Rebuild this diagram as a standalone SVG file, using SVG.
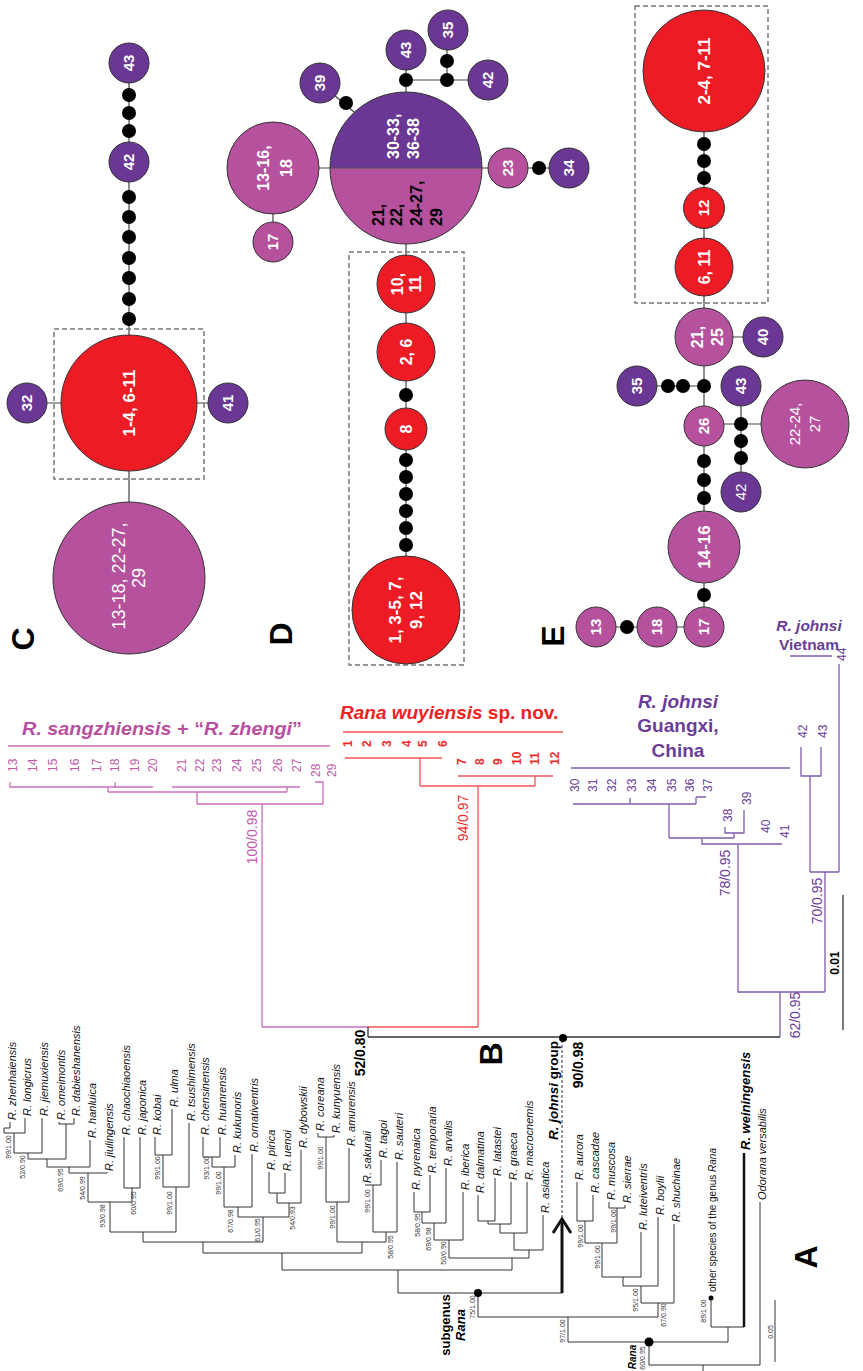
<svg xmlns="http://www.w3.org/2000/svg" width="863" height="1371" viewBox="0 0 863 1371">
<style>
text{font-family:"Liberation Sans",Arial,sans-serif}
.sp{font-size:11px;font-style:italic;fill:#111}
.bs{font-size:7px;fill:#333;text-anchor:middle}
.ta{stroke:#333;stroke-width:1;fill:none}
.lp{stroke:#cc6fba;stroke-width:1.3;fill:none}
.lr{stroke:#f25555;stroke-width:1.3;fill:none}
.lv{stroke:#7f5cb0;stroke-width:1.3;fill:none}
.lk{stroke:#333;stroke-width:1.3;fill:none}
.np{font-size:12px;fill:#c158a8}
.nr{font-size:12px;fill:#ee2a2a;font-weight:bold}
.nv{font-size:12px;fill:#6a3d9a}
.sv{font-size:14px;text-anchor:middle}
.hd{font-size:19px;font-weight:bold}
.big{font-size:32px;font-weight:bold;text-anchor:middle;fill:#000}
.cr{fill:#ed1c24;stroke:#333;stroke-width:1}
.cp{fill:#b5519d;stroke:#333;stroke-width:1}
.cv{fill:#6a3795;stroke:#333;stroke-width:1}
.dt{fill:#000}
.cl{stroke:#444;stroke-width:1.2;fill:none}
.bx{fill:none;stroke:#777;stroke-width:1.5;stroke-dasharray:5 3}
.ct{fill:#fff;font-weight:bold;text-anchor:middle;font-size:15px}
.cn{fill:#fff;text-anchor:middle;font-size:15px}
</style>

<!-- ================= NETWORK CONNECTORS ================= -->
<g id="connectors">
<path class="cl" d="M129 63V578M27 403H228"/>
<path class="cl" d="M273 168H569M273 168V242M320 83L354 112M406 50V610M406 80H488M447 30V80"/>
<path class="cl" d="M704 71V627M704 337H763M637 386H704M704 424H805M741 386V492M596 627H704"/>
</g>

<!-- ================= NETWORK C ================= -->
<g id="netC">
<rect class="bx" x="54" y="329" width="150" height="150"/>
<g id="C-43"><circle class="cv" cx="129" cy="63" r="20"/><text class="ct" transform="translate(134.3,63) rotate(-90)">43</text></g>
<g id="C-dots1"><circle class="dt" cx="129" cy="95" r="7"/><circle class="dt" cx="129" cy="113" r="7"/><circle class="dt" cx="129" cy="131" r="7"/></g>
<g id="C-42"><circle class="cv" cx="129" cy="162" r="20"/><text class="ct" transform="translate(134.3,162) rotate(-90)">42</text></g>
<g id="C-dots2"><circle class="dt" cx="129" cy="197" r="7"/><circle class="dt" cx="129" cy="217" r="7"/><circle class="dt" cx="129" cy="237" r="7"/><circle class="dt" cx="129" cy="258" r="7"/><circle class="dt" cx="129" cy="278" r="7"/><circle class="dt" cx="129" cy="299" r="7"/><circle class="dt" cx="129" cy="319" r="7"/></g>
<g id="C-red"><circle class="cr" cx="129" cy="403" r="68"/><text class="ct" style="font-size:17px" transform="translate(135,403) rotate(-90)">1-4, 6-11</text></g>
<g id="C-32"><circle class="cv" cx="27" cy="403" r="20"/><text class="ct" transform="translate(32.3,403) rotate(-90)">32</text></g>
<g id="C-41"><circle class="cv" cx="228" cy="403" r="20"/><text class="ct" transform="translate(233.3,403) rotate(-90)">41</text></g>
<g id="C-pink"><circle class="cp" cx="129" cy="578" r="76"/><text class="cn" style="font-size:18px" transform="translate(125.4,576) rotate(-90)">13-18, 22-27,</text><text class="cn" style="font-size:18px" transform="translate(145.4,578) rotate(-90)">29</text></g>
<text class="big" transform="translate(33.5,639) rotate(-90)">C</text>
</g>

<!-- ================= NETWORK D ================= -->
<g id="netD">
<rect class="bx" x="349" y="252" width="115" height="413"/>
<g id="D-13-16"><circle class="cp" cx="273" cy="168" r="46"/><text class="ct" style="font-size:16px" transform="translate(268.7,168) rotate(-90)">13-16,</text><text class="ct" style="font-size:16px" transform="translate(291.7,168) rotate(-90)">18</text></g>
<g id="D-17"><circle class="cp" cx="273" cy="242" r="20"/><text class="ct" transform="translate(278.3,242) rotate(-90)">17</text></g>
<g id="D-main">
<path d="M330 168A76 76 0 0 1 482 168Z" fill="#6a3795"/>
<path d="M330 168A76 76 0 0 0 482 168Z" fill="#b5519d"/>
<circle cx="406" cy="168" r="76" fill="none" stroke="#333" stroke-width="1"/>
<path d="M330 168H482" stroke="#555" stroke-width="1"/>
<text class="ct" style="font-size:16px;text-anchor:start" transform="translate(398.7,159) rotate(-90)">30-33,</text>
<text class="ct" style="font-size:16px;text-anchor:start" transform="translate(418.7,159) rotate(-90)">36-38</text>
<text style="font-size:16px;font-weight:bold;fill:#000" transform="translate(383.7,226) rotate(-90)">21,</text>
<text style="font-size:16px;font-weight:bold;fill:#000" transform="translate(401.7,226) rotate(-90)">22,</text>
<text style="font-size:16px;font-weight:bold;fill:#000" transform="translate(421.7,226) rotate(-90)">24-27,</text>
<text style="font-size:16px;font-weight:bold;fill:#000" transform="translate(441.7,226) rotate(-90)">29</text>
</g>
<g id="D-39"><circle class="cv" cx="320" cy="83" r="20"/><text class="ct" transform="translate(325.3,83) rotate(-90)">39</text></g>
<circle class="dt" cx="346" cy="103" r="7"/>
<g id="D-43"><circle class="cv" cx="406" cy="50" r="20"/><text class="ct" transform="translate(411.3,50) rotate(-90)">43</text></g>
<circle class="dt" cx="406" cy="80" r="7"/>
<circle class="dt" cx="447" cy="80" r="7"/>
<circle class="dt" cx="447" cy="61" r="7"/>
<g id="D-35"><circle class="cv" cx="448" cy="30" r="20"/><text class="ct" transform="translate(453.3,30) rotate(-90)">35</text></g>
<g id="D-42"><circle class="cv" cx="488" cy="80" r="20"/><text class="ct" transform="translate(493.3,80) rotate(-90)">42</text></g>
<g id="D-23"><circle class="cp" cx="508" cy="168" r="20"/><text class="ct" transform="translate(513.3,168) rotate(-90)">23</text></g>
<circle class="dt" cx="539" cy="168" r="7"/>
<g id="D-34"><circle class="cv" cx="569" cy="168" r="20"/><text class="ct" transform="translate(574.3,168) rotate(-90)">34</text></g>
<g id="D-10-11"><circle class="cr" cx="406" cy="284" r="29"/><text class="ct" style="font-size:16px" transform="translate(402.7,284) rotate(-90)">10,</text><text class="ct" style="font-size:16px" transform="translate(420.7,284) rotate(-90)">11</text></g>
<g id="D-2-6"><circle class="cr" cx="406" cy="352" r="29"/><text class="ct" style="font-size:16px" transform="translate(411.7,352) rotate(-90)">2, 6</text></g>
<circle class="dt" cx="406" cy="395" r="7"/>
<g id="D-8"><circle class="cr" cx="406" cy="429" r="21"/><text class="ct" style="font-size:16px" transform="translate(411.7,429) rotate(-90)">8</text></g>
<g id="D-dots"><circle class="dt" cx="406" cy="460" r="7"/><circle class="dt" cx="406" cy="477" r="7"/><circle class="dt" cx="406" cy="494" r="7"/><circle class="dt" cx="406" cy="511" r="7"/><circle class="dt" cx="406" cy="528" r="7"/><circle class="dt" cx="406" cy="545" r="7"/></g>
<g id="D-red"><circle class="cr" cx="406" cy="610" r="54"/><text class="ct" style="font-size:17px" transform="translate(401,610) rotate(-90)">1, 3-5, 7,</text><text class="ct" style="font-size:17px" transform="translate(422,610) rotate(-90)">9, 12</text></g>
<text class="big" transform="translate(291.5,634) rotate(-90)">D</text>
</g>

<!-- ================= NETWORK E ================= -->
<g id="netE">
<rect class="bx" x="635" y="6" width="133" height="297"/>
<g id="E-red"><circle class="cr" cx="704" cy="71" r="61"/><text class="ct" style="font-size:17px" transform="translate(710,71) rotate(-90)">2-4, 7-11</text></g>
<circle class="dt" cx="704" cy="144" r="7"/><circle class="dt" cx="704" cy="161" r="7"/><circle class="dt" cx="704" cy="178" r="7"/>
<g id="E-12"><circle class="cr" cx="704" cy="208" r="20.5"/><text class="ct" transform="translate(709.3,208) rotate(-90)">12</text></g>
<g id="E-6-11"><circle class="cr" cx="704" cy="267" r="29"/><text class="ct" style="font-size:16px" transform="translate(709.7,267) rotate(-90)">6, 11</text></g>
<g id="E-21-25"><circle class="cp" cx="704" cy="337" r="29"/><text class="ct" style="font-size:16px" transform="translate(702.7,337) rotate(-90)">21,</text><text class="ct" style="font-size:16px" transform="translate(722.7,337) rotate(-90)">25</text></g>
<g id="E-40"><circle class="cv" cx="763" cy="337" r="20"/><text class="ct" transform="translate(768.3,337) rotate(-90)">40</text></g>
<circle class="dt" cx="704" cy="386" r="7"/><circle class="dt" cx="683" cy="386" r="7"/><circle class="dt" cx="668" cy="386" r="7"/>
<g id="E-35"><circle class="cv" cx="637" cy="386" r="20"/><text class="ct" transform="translate(642.3,386) rotate(-90)">35</text></g>
<g id="E-43"><circle class="cv" cx="741" cy="386" r="20"/><text class="ct" transform="translate(746.3,386) rotate(-90)">43</text></g>
<g id="E-26"><circle class="cp" cx="704" cy="426" r="20"/><text class="ct" transform="translate(709.3,426) rotate(-90)">26</text></g>
<circle class="dt" cx="741" cy="424" r="7"/>
<g id="E-22-27"><circle class="cp" cx="805" cy="424" r="44"/><text class="cn" transform="translate(800.3,424) rotate(-90)">22-24,</text><text class="cn" transform="translate(820.3,424) rotate(-90)">27</text></g>
<circle class="dt" cx="741" cy="441" r="7"/><circle class="dt" cx="741" cy="458" r="7"/>
<g id="E-42"><circle class="cv" cx="741" cy="492" r="20"/><text class="cn" transform="translate(746.3,492) rotate(-90)">42</text></g>
<circle class="dt" cx="704" cy="461" r="7"/><circle class="dt" cx="704" cy="480" r="7"/><circle class="dt" cx="704" cy="498" r="7"/>
<g id="E-14-16"><circle class="cp" cx="704" cy="547" r="36"/><text class="ct" style="font-size:17px" transform="translate(710,547) rotate(-90)">14-16</text></g>
<circle class="dt" cx="704" cy="595" r="7"/>
<g id="E-17"><circle class="cp" cx="704" cy="627" r="20"/><text class="ct" transform="translate(709.3,627) rotate(-90)">17</text></g>
<g id="E-18"><circle class="cp" cx="657" cy="627" r="20"/><text class="ct" transform="translate(662.3,627) rotate(-90)">18</text></g>
<circle class="dt" cx="627" cy="627" r="7"/>
<g id="E-13"><circle class="cp" cx="596" cy="627" r="20"/><text class="ct" transform="translate(601.3,627) rotate(-90)">13</text></g>
<text class="big" transform="translate(563.5,636) rotate(-90)">E</text>
</g>

<!-- ================= TREE B ================= -->
<g id="treeB">
<path class="lp" d="M8 746H330M10 782V787H153M115 782V787M108 787V792M172 787H300M287 787V792M108 792H287M197 792V804M315 782H323V804M197 804H323M262 804V1027M262 1027H368"/>
<path class="lr" d="M343 732H563M345 758H442M420 758V786M458 776H553M535 776V786M420 786H535M478 786V1027M368 1027H478"/>
<path class="lv" d="M571 768H790M573 804H696M630 798V804M696 797V804M696 797H706M669 804V838M725 827V833H744V810M734 833V838M669 838H734M702 838V844H782M738 844V992H825M801 747V776H821V747M810 776V872M839 664V872M810 872H839M825 872V992M780 992V1037M790 656H832"/>
<path class="lk" d="M368 1027V1037M368 1037H780M843 895V1030"/>

<text class="hd" x="22" y="735" fill="#b94fa0" textLength="280" lengthAdjust="spacingAndGlyphs"><tspan font-style="italic">R. sangzhiensis</tspan> + “<tspan font-style="italic">R. zhengi</tspan>”</text>
<text class="hd" x="340" y="719" fill="#ee2222"><tspan font-style="italic">Rana wuyiensis</tspan> sp. nov.</text>
<text class="hd" text-anchor="middle" fill="#6a3d9a"><tspan x="678" y="708" font-style="italic">R. johnsi</tspan><tspan x="678" y="732">Guangxi,</tspan><tspan x="678" y="757">China</tspan></text>
<text class="hd" text-anchor="middle" fill="#6a3d9a" style="font-size:15.5px"><tspan x="809" y="631" font-style="italic">R. johnsi</tspan><tspan x="809" y="650">Vietnam</tspan></text>

<g class="np">
<text transform="translate(17.2,772) rotate(-90)">13</text>
<text transform="translate(37.2,772) rotate(-90)">14</text>
<text transform="translate(57.2,772) rotate(-90)">15</text>
<text transform="translate(79.2,772) rotate(-90)">16</text>
<text transform="translate(101.2,772) rotate(-90)">17</text>
<text transform="translate(119.2,772) rotate(-90)">18</text>
<text transform="translate(139.2,772) rotate(-90)">19</text>
<text transform="translate(157.2,772) rotate(-90)">20</text>
<text transform="translate(186.2,772) rotate(-90)">21</text>
<text transform="translate(204.2,772) rotate(-90)">22</text>
<text transform="translate(221.2,772) rotate(-90)">23</text>
<text transform="translate(241.2,772) rotate(-90)">24</text>
<text transform="translate(261.2,772) rotate(-90)">25</text>
<text transform="translate(282.2,772) rotate(-90)">26</text>
<text transform="translate(301.2,772) rotate(-90)">27</text>
<text transform="translate(320.2,777) rotate(-90)">28</text>
<text transform="translate(336.2,777) rotate(-90)">29</text>
</g>
<g class="nr">
<text transform="translate(352.2,747) rotate(-90)">1</text>
<text transform="translate(371.2,747) rotate(-90)">2</text>
<text transform="translate(391.2,747) rotate(-90)">3</text>
<text transform="translate(411.2,747) rotate(-90)">4</text>
<text transform="translate(427.2,747) rotate(-90)">5</text>
<text transform="translate(447.2,747) rotate(-90)">6</text>
<text transform="translate(466.2,765) rotate(-90)">7</text>
<text transform="translate(484.2,765) rotate(-90)">8</text>
<text transform="translate(502.2,765) rotate(-90)">9</text>
<text transform="translate(521.2,765) rotate(-90)">10</text>
<text transform="translate(539.2,765) rotate(-90)">11</text>
<text transform="translate(559.2,765) rotate(-90)">12</text>
</g>
<g class="nv">
<text transform="translate(579.2,792) rotate(-90)">30</text>
<text transform="translate(597.2,792) rotate(-90)">31</text>
<text transform="translate(616.2,792) rotate(-90)">32</text>
<text transform="translate(636.2,792) rotate(-90)">33</text>
<text transform="translate(656.2,792) rotate(-90)">34</text>
<text transform="translate(676.2,792) rotate(-90)">35</text>
<text transform="translate(694.2,792) rotate(-90)">36</text>
<text transform="translate(712.2,792) rotate(-90)">37</text>
<text transform="translate(732.2,822) rotate(-90)">38</text>
<text transform="translate(751.2,805) rotate(-90)">39</text>
<text transform="translate(770.2,833) rotate(-90)">40</text>
<text transform="translate(789.2,838) rotate(-90)">41</text>
<text transform="translate(807.2,738) rotate(-90)">42</text>
<text transform="translate(827.2,738) rotate(-90)">43</text>
<text transform="translate(846,661) rotate(-90)">44</text>
</g>
<text class="sv" fill="#c158a8" transform="translate(256.9,837) rotate(-90)">100/0.98</text>
<text class="sv" fill="#ee2a2a" transform="translate(467.9,818) rotate(-90)">94/0.97</text>
<text class="sv" fill="#6a3d9a" transform="translate(729.9,873) rotate(-90)">78/0.95</text>
<text class="sv" fill="#6a3d9a" transform="translate(821.9,901) rotate(-90)">70/0.95</text>
<text class="sv" fill="#6a3d9a" transform="translate(799.9,1015) rotate(-90)">62/0.95</text>
<text class="sv" fill="#000" font-weight="bold" transform="translate(364.9,1053) rotate(-90)">52/0.80</text>
<text class="sv" fill="#000" font-weight="bold" transform="translate(582.9,1065) rotate(-90)">90/0.98</text>
<text fill="#000" font-weight="bold" font-size="12" text-anchor="middle" transform="translate(839.2,963) rotate(-90)">0.01</text>
<text class="big" transform="translate(501.5,1054) rotate(-90)">B</text>
</g>

<!-- ================= TREE A ================= -->
<g id="treeA">
<path class="ta" d="M10 1122V1128H4V1133M4 1133H25M25 1118V1133M14 1133V1153M42 1118V1153M14 1153H42M28 1153V1159M59 1122V1124H74M74 1118V1124M66 1124V1159M28 1159H66M47 1159V1167M90 1140V1167M47 1167H90M69 1167V1173M69 1173H107M107 1172V1173M88 1173V1202M124 1137V1188M140 1137V1188M124 1188H140M132 1188V1202M88 1202H132M110 1202V1232M155 1137V1155M172 1109V1155M155 1155H172M163 1155V1187M189 1123V1187M163 1187H189M176 1187V1232M110 1232H176M143 1232V1242M203 1137V1157M220 1137V1157M203 1157H220M212 1157V1167M235 1155V1167M212 1167H235M224 1167V1207M252 1154V1207M224 1207H252M238 1207V1217M269 1172V1193M285 1173V1193M269 1193H285M277 1193V1203M301 1150V1203M277 1203H301M289 1203V1217M238 1217H289M263 1217V1242M143 1242H263M203 1242V1253M318 1133V1137M334 1135V1137M318 1137H334M326 1137V1202M349 1148V1202M326 1202H349M337 1202V1242M381 1160V1185M365 1185H381M373 1185V1232M397 1162V1232M373 1232H397M386 1232V1242M337 1242H386M362 1242V1253M203 1253H362M282 1253V1270"/>
<path class="ta" d="M414 1192V1212M430 1175V1212M414 1212H430M422 1212V1223M446 1168V1223M422 1223H446M434 1223V1240M463 1192V1240M434 1240H463M449 1240V1258M478 1195V1221M495 1178V1221M478 1221H495M488 1221V1224M511 1182V1224M488 1224H511M500 1224V1233M527 1182V1233M500 1233H527M514 1233V1250M543 1215V1250M514 1250H543M529 1250V1258M449 1258H529M512 1258V1270M282 1270H512M398 1270V1293M398 1293H562M478 1293V1317"/>
<path class="ta" d="M577 1182V1221M593 1195V1221M577 1221H593M585 1221V1243M609 1202V1208M625 1205V1208M609 1208H625M617 1208V1243M585 1243H617M602 1243V1277M641 1232V1277M602 1277H641M623 1277V1286M658 1217V1286M623 1286H658M641 1286V1303M674 1224V1303M641 1303H674M658 1303V1317M478 1317H658M568 1317V1342M711 1298V1327M711 1327H744M728 1327V1342M568 1342H728M649 1342V1365M649 1365H760M760 1202V1365M703 1365V1371M775 1300V1362"/>
<path d="M744 1153V1327" stroke="#111" stroke-width="2.5" fill="none"/>
<path d="M562 1293V1222" stroke="#111" stroke-width="3" fill="none"/>
<path d="M553 1233L562 1219L571 1233" stroke="#111" stroke-width="3" fill="none" stroke-linejoin="miter"/>
<path d="M562 1218V1040" stroke="#333" stroke-width="1" stroke-dasharray="3 2" fill="none"/>
<circle cx="478" cy="1293" r="4" fill="#000"/>
<circle cx="563" cy="1038" r="4" fill="#000"/>
<circle cx="649" cy="1342" r="4.5" fill="#000"/>
<circle cx="711" cy="1298" r="2.5" fill="#000"/>

<g class="sp">
<text transform="translate(15.5,1120) rotate(-90)">R. zhenhaiensis</text>
<text transform="translate(30.5,1116) rotate(-90)">R. longicrus</text>
<text transform="translate(47.5,1116) rotate(-90)">R. jiemuxiensis</text>
<text transform="translate(64.5,1120) rotate(-90)">R. omeimontis</text>
<text transform="translate(79.5,1116) rotate(-90)">R. dabieshanensis</text>
<text transform="translate(95.5,1138) rotate(-90)">R. hanluica</text>
<text transform="translate(112.5,1171) rotate(-90)">R. jiulingensis</text>
<text transform="translate(129.5,1135) rotate(-90)">R. chaochiaoensis</text>
<text transform="translate(145.5,1135) rotate(-90)">R. japonica</text>
<text transform="translate(160.5,1135) rotate(-90)">R. kobai</text>
<text transform="translate(177.5,1107) rotate(-90)">R. ulma</text>
<text transform="translate(194.5,1121) rotate(-90)">R. tsushimensis</text>
<text transform="translate(208.5,1135) rotate(-90)">R. chensinensis</text>
<text transform="translate(225.5,1135) rotate(-90)">R. huanrensis</text>
<text transform="translate(240.5,1153) rotate(-90)">R. kukunoris</text>
<text transform="translate(257.5,1152) rotate(-90)">R. ornativentris</text>
<text transform="translate(274.5,1170) rotate(-90)">R. pirica</text>
<text transform="translate(290.5,1171) rotate(-90)">R. uenoi</text>
<text transform="translate(306.5,1148) rotate(-90)">R. dybowskii</text>
<text transform="translate(323.5,1131) rotate(-90)">R. coreana</text>
<text transform="translate(339.5,1133) rotate(-90)">R. kunyuensis</text>
<text transform="translate(354.5,1146) rotate(-90)">R. amurensis</text>
<text transform="translate(370.5,1183) rotate(-90)">R. sakuraii</text>
<text transform="translate(386.5,1158) rotate(-90)">R. tagoi</text>
<text transform="translate(402.5,1160) rotate(-90)">R. sauteri</text>
<text transform="translate(419.5,1190) rotate(-90)">R. pyrenaica</text>
<text transform="translate(435.5,1173) rotate(-90)">R. temporaria</text>
<text transform="translate(451.5,1166) rotate(-90)">R. arvalis</text>
<text transform="translate(468.5,1190) rotate(-90)">R. iberica</text>
<text transform="translate(483.5,1193) rotate(-90)">R. dalmatina</text>
<text transform="translate(500.5,1176) rotate(-90)">R. latastei</text>
<text transform="translate(516.5,1180) rotate(-90)">R. graeca</text>
<text transform="translate(532.5,1180) rotate(-90)">R. macrocnemis</text>
<text transform="translate(548.5,1213) rotate(-90)">R. asiatica</text>
<text transform="translate(582.5,1180) rotate(-90)">R. aurora</text>
<text transform="translate(598.5,1193) rotate(-90)">R. cascadae</text>
<text transform="translate(614.5,1200) rotate(-90)">R. muscosa</text>
<text transform="translate(630.5,1203) rotate(-90)">R. sierrae</text>
<text transform="translate(646.5,1230) rotate(-90)">R. luteiventris</text>
<text transform="translate(663.5,1215) rotate(-90)">R. boylii</text>
<text transform="translate(679.5,1222) rotate(-90)">R. shuchinae</text>
<text transform="translate(766,1200) rotate(-90)">Odorana versabilis</text>
</g>
<text style="font-size:13px;font-weight:bold;font-style:italic" transform="translate(749.5,1150) rotate(-90)">R. weiningensis</text>
<text style="font-size:10px;fill:#111" transform="translate(715.5,1292) rotate(-90)">other species of the genus <tspan font-style="italic">Rana</tspan></text>
<text style="font-size:13.5px;font-weight:bold" transform="translate(558,1140) rotate(-90)"><tspan font-style="italic">R. johnsi</tspan> group</text>
<text style="font-size:13px;font-weight:bold;text-anchor:middle" transform="translate(449.5,1325) rotate(-90)">subgenus</text>
<text style="font-size:13px;font-weight:bold;font-style:italic;text-anchor:middle" transform="translate(464.5,1325) rotate(-90)">Rana</text>
<text style="font-size:10px;font-weight:bold;font-style:italic;text-anchor:middle" transform="translate(635.5,1357) rotate(-90)">Rana</text>

<g class="bs">
<text transform="translate(10.5,1147) rotate(-90)">99/1.00</text>
<text transform="translate(24.5,1167) rotate(-90)">52/0.90</text>
<text transform="translate(62.5,1180) rotate(-90)">69/0.95</text>
<text transform="translate(84.5,1188) rotate(-90)">54/0.99</text>
<text transform="translate(135.5,1203) rotate(-90)">60/0.95</text>
<text transform="translate(104.5,1216) rotate(-90)">93/0.98</text>
<text transform="translate(159.5,1168) rotate(-90)">99/1.00</text>
<text transform="translate(171.5,1203) rotate(-90)">99/1.00</text>
<text transform="translate(208.5,1168) rotate(-90)">93/1.00</text>
<text transform="translate(220.5,1183) rotate(-90)">99/1.00</text>
<text transform="translate(232.5,1221) rotate(-90)">67/0.98</text>
<text transform="translate(294.5,1218) rotate(-90)">54/0.93</text>
<text transform="translate(259.5,1230) rotate(-90)">61/0.95</text>
<text transform="translate(322.5,1158) rotate(-90)">99/1.00</text>
<text transform="translate(334.5,1217) rotate(-90)">99/1.00</text>
<text transform="translate(369.5,1201) rotate(-90)">99/1.00</text>
<text transform="translate(392.5,1247) rotate(-90)">58/0.95</text>
<text transform="translate(419.5,1225) rotate(-90)">58/0.95</text>
<text transform="translate(430.5,1239) rotate(-90)">69/0.98</text>
<text transform="translate(445.5,1253) rotate(-90)">50/0.90</text>
<text transform="translate(474.5,1307) rotate(-90)">75/1.00</text>
<text transform="translate(564.5,1331) rotate(-90)">97/1.00</text>
<text transform="translate(582.5,1236) rotate(-90)">99/1.00</text>
<text transform="translate(599.5,1257) rotate(-90)">99/1.00</text>
<text transform="translate(615.5,1221) rotate(-90)">99/1.00</text>
<text transform="translate(637.5,1300) rotate(-90)">95/1.00</text>
<text transform="translate(665.5,1315) rotate(-90)">67/0.90</text>
<text transform="translate(705.5,1311) rotate(-90)">89/1.00</text>
<text transform="translate(644.5,1358) rotate(-90)">60/0.95</text>
<text transform="translate(772.5,1332) rotate(-90)">0.05</text>
</g>
<text class="big" transform="translate(816.5,1257) rotate(-90)">A</text>
</g>
</svg>
